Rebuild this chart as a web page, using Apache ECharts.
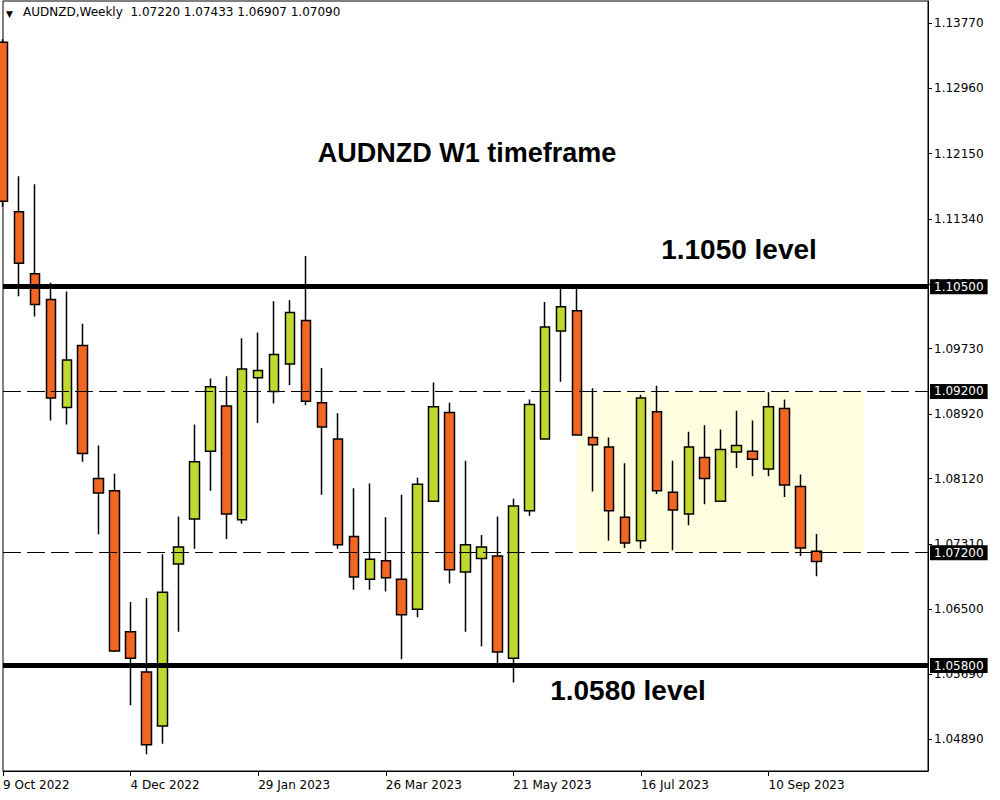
<!DOCTYPE html>
<html>
<head>
<meta charset="utf-8">
<script src="https://cdn.jsdelivr.net/npm/echarts@6/dist/echarts.min.js"></script>
<style>
html,body{margin:0;padding:0;background:#fff;}
#chart{width:1000px;height:800px;}
</style>
</head>
<body>
<div id="chart"></div>
<script>
// Weekly candles AUDNZD, starting 9 Oct 2022
const categories = [
 '9 Oct 2022','16 Oct 2022','23 Oct 2022','30 Oct 2022','6 Nov 2022','13 Nov 2022','20 Nov 2022','27 Nov 2022',
 '4 Dec 2022','11 Dec 2022','18 Dec 2022','25 Dec 2022','1 Jan 2023','8 Jan 2023','15 Jan 2023','22 Jan 2023',
 '29 Jan 2023','5 Feb 2023','12 Feb 2023','19 Feb 2023','26 Feb 2023','5 Mar 2023','12 Mar 2023','19 Mar 2023',
 '26 Mar 2023','2 Apr 2023','9 Apr 2023','16 Apr 2023','23 Apr 2023','30 Apr 2023','7 May 2023','14 May 2023',
 '21 May 2023','28 May 2023','4 Jun 2023','11 Jun 2023','18 Jun 2023','25 Jun 2023','2 Jul 2023','9 Jul 2023',
 '16 Jul 2023','23 Jul 2023','30 Jul 2023','6 Aug 2023','13 Aug 2023','20 Aug 2023','27 Aug 2023','3 Sep 2023',
 '10 Sep 2023','17 Sep 2023','24 Sep 2023','1 Oct 2023','8 Oct 2023','15 Oct 2023','22 Oct 2023','29 Oct 2023',
 '5 Nov 2023','12 Nov 2023','19 Nov 2023'
];
const open = [1.1353,1.1143,1.1066,1.1034,1.0900,1.0977,1.0812,1.0797,1.0622,1.0572,1.0505,1.0706,1.0762,
 1.0846,1.0902,1.0761,1.0937,1.0920,1.0954,1.1008,1.0906,1.0861,1.0740,1.0687,1.0710,1.0687,1.0650,1.0784,
 1.0894,1.0696,1.0713,1.0716,1.0589,1.0772,1.0861,1.0995,1.1020,1.0863,1.0851,1.0764,1.0735,1.0895,1.0795,
 1.0768,1.0838,1.0784,1.0845,1.0846,1.0824,1.0899,1.0802,1.07220];
const close = [1.1156,1.1079,1.1028,1.0912,1.0959,1.0843,1.0794,1.0598,1.0589,1.0482,1.0671,1.0727,1.0833,
 1.0926,1.0768,1.0948,1.0946,1.0966,1.1018,1.0908,1.0876,1.0730,1.0690,1.0712,1.0689,1.0643,1.0805,1.0901,
 1.0699,1.0730,1.0727,1.0597,1.0778,1.0904,1.1000,1.1025,1.0866,1.0854,1.0772,1.0732,1.0912,1.0797,1.0773,
 1.0851,1.0812,1.0848,1.0853,1.0836,1.0901,1.0804,1.0726,1.07090];
const low = [1.1149,1.1038,1.1013,1.0884,1.0879,1.0833,1.0743,1.0597,1.0531,1.0470,1.0483,1.0622,1.0725,
 1.0797,1.0737,1.0756,1.0881,1.0905,1.0928,1.0903,1.0792,1.0725,1.0674,1.0674,1.0672,1.0588,1.0640,1.0783,
 1.0682,1.0622,1.0604,1.0583,1.0559,1.0766,1.0860,1.0932,1.0865,1.0796,1.0735,1.0726,1.0725,1.0793,1.0723,
 1.0754,1.0780,1.0783,1.0825,1.0815,1.0815,1.0789,1.0716,1.06907];
const high = [1.1357,1.1187,1.1177,1.1055,1.1044,1.1004,1.0853,1.0818,1.0659,1.0664,1.0718,1.0765,1.0879,
 1.0936,1.0939,1.0986,1.0993,1.1032,1.1033,1.1088,1.0949,1.0893,1.0800,1.0806,1.0764,1.0792,1.0813,1.0931,
 1.0906,1.0834,1.0742,1.0765,1.0787,1.0910,1.1031,1.1048,1.1048,1.0924,1.0863,1.0831,1.0916,1.0927,1.0834,
 1.0870,1.0878,1.0873,1.0896,1.0884,1.0919,1.0910,1.0817,1.07433];
const yTicks = [1.04890,1.05690,1.06500,1.07310,1.08120,1.08920,1.09730,1.10530,1.11340,1.12150,1.12960,1.13770];
const levels = [1.10500, 1.05800];      // thick solid lines
const rangeLevels = [1.09200, 1.07200]; // dashed lines / range box
const lastPrice = 1.07090;
const rangeStart = 36, rangeEnd = 54;   // category indices of the highlighted box
const labelEvery = 8, lastLabelIdx = 48;

const candles = open.map((o, i) => [o, close[i], low[i], high[i]]);
const FONT = 'DejaVu Sans';
const box = (v) => ({
  show: true, position: 'end', distance: 2, formatter: v.toFixed(5),
  backgroundColor: '#000', color: '#fff', fontFamily: FONT, fontSize: 12,
  padding: [2, 4, 1, 4]
});

const chart = echarts.init(document.getElementById('chart'), null, {renderer: 'svg'});
chart.setOption({
  animation: false,
  backgroundColor: '#fff',
  grid: {left: 3, right: 72, top: 1, bottom: 29, show: true, borderColor: '#000', borderWidth: 1, backgroundColor: 'transparent'},
  xAxis: {
    type: 'category', data: categories, boundaryGap: false,
    axisLine: {lineStyle: {color: '#000', width: 1}},
    axisTick: {show: true, length: 5, lineStyle: {color: '#000'}, interval: (i) => i % labelEvery === 0 && i <= lastLabelIdx},
    axisLabel: {interval: (i) => i % labelEvery === 0 && i <= lastLabelIdx, align: 'left', color: '#000', fontFamily: FONT, fontSize: 12, margin: 8},
    splitLine: {show: false}
  },
  yAxis: {
    type: 'value', position: 'right', min: 1.04493, max: 1.14043, scale: true,
    axisLine: {show: true, lineStyle: {color: '#000'}},
    axisTick: {show: true, length: 4, customValues: yTicks, lineStyle: {color: '#000'}},
    axisLabel: {customValues: yTicks, formatter: (v) => v.toFixed(5), color: '#000', fontFamily: FONT, fontSize: 12, margin: 6},
    splitLine: {show: false}
  },
  series: [
    {
      type: 'line', data: [], z: 1, silent: true,
      markArea: {
        silent: true,
        itemStyle: {color: '#FFFEE0'},
        data: [[{xAxis: categories[rangeStart], yAxis: rangeLevels[0]}, {xAxis: categories[rangeEnd], yAxis: rangeLevels[1]}]]
      }
    },
    {
      type: 'candlestick', data: candles, barWidth: 10, z: 3,
      itemStyle: {color: '#C3D82F', color0: '#F26522', borderColor: '#000', borderColor0: '#000', borderWidth: 1.5}
    },
    {
      type: 'line', data: [], z: 5, silent: true,
      markLine: {
        silent: true, symbol: ['none', 'none'], animation: false, precision: 5,
        data: [
          {yAxis: lastPrice, lineStyle: {opacity: 0}, label: box(lastPrice)},
          {yAxis: rangeLevels[0], lineStyle: {color: '#000', width: 1, type: [18, 6]}, label: box(rangeLevels[0])},
          {yAxis: rangeLevels[1], lineStyle: {color: '#000', width: 1, type: [18, 6]}, label: box(rangeLevels[1])},
          {yAxis: levels[0], lineStyle: {color: '#000', width: 5, type: 'solid'}, label: box(levels[0])},
          {yAxis: levels[1], lineStyle: {color: '#000', width: 5, type: 'solid'}, label: box(levels[1])}
        ]
      }
    }
  ],
  graphic: [
    {type: 'text', left: 6, top: 9, style: {text: '▼', fontSize: 9, fill: '#000', fontFamily: FONT}},
    {type: 'text', left: 23, top: 6, style: {text: 'AUDNZD,Weekly  1.07220 1.07433 1.06907 1.07090', fontSize: 12, fill: '#000', fontFamily: FONT}},
    {type: 'text', x: 467, y: 153, style: {text: 'AUDNZD W1 timeframe', fontSize: 27, fontWeight: 'bold', fill: '#000', fontFamily: 'Liberation Sans', align: 'center', verticalAlign: 'middle'}},
    {type: 'text', x: 739, y: 249, style: {text: '1.1050 level', fontSize: 28, fontWeight: 'bold', fill: '#000', fontFamily: 'Liberation Sans', align: 'center', verticalAlign: 'middle'}},
    {type: 'text', x: 628, y: 690, style: {text: '1.0580 level', fontSize: 28, fontWeight: 'bold', fill: '#000', fontFamily: 'Liberation Sans', align: 'center', verticalAlign: 'middle'}}
  ]
});
</script>
</body>
</html>
